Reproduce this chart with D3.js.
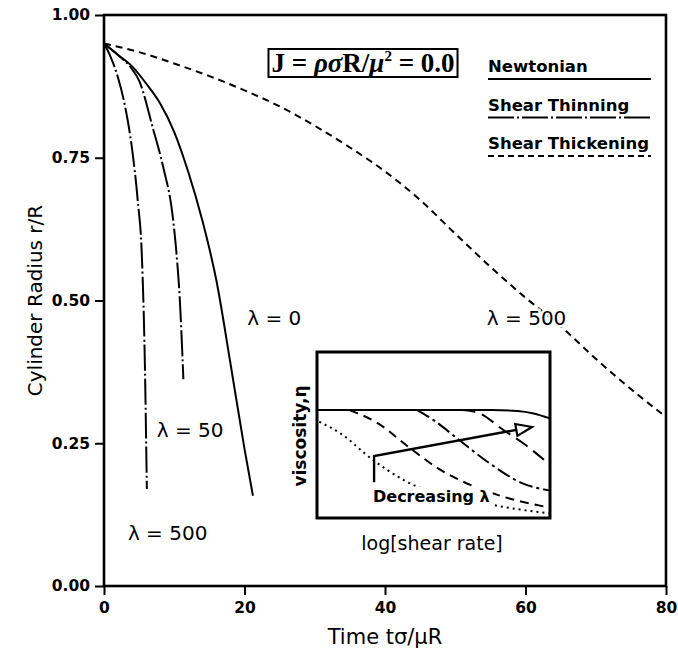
<!DOCTYPE html>
<html>
<head>
<meta charset="utf-8">
<script src="https://cdn.jsdelivr.net/npm/d3@7"></script>
<style>
body{margin:0;background:#fff;}
text{font-family:"DejaVu Sans",sans-serif;fill:#000;}
</style>
</head>
<body>
<div id="chart"></div>
<script>
// main plot data : time t*sigma/(mu*R) vs cylinder radius r/R
const xTicks = [0, 20, 40, 60, 80];
const yTicks = [0, 0.25, 0.5, 0.75, 1.0];

const timeNewt   = [0, 2, 4, 6, 8, 10, 12, 14, 16, 18, 20, 21.2];
const radiusNewt = [0.95, 0.93, 0.91, 0.88, 0.845, 0.795, 0.725, 0.64, 0.535, 0.39, 0.24, 0.158];

const timeThin50   = [0, 2, 4, 5, 7, 8.5, 9.7, 10.3, 10.8, 11.3];
const radiusThin50 = [0.95, 0.93, 0.905, 0.885, 0.80, 0.73, 0.655, 0.585, 0.50, 0.362];

const timeThin500   = [0, 1, 2, 3, 4, 4.8, 5.4, 5.8, 6.1];
const radiusThin500 = [0.95, 0.925, 0.89, 0.84, 0.765, 0.675, 0.575, 0.40, 0.17];

const timeThick   = [0, 5, 10, 15, 20, 25, 30, 35, 40, 45, 50, 55, 60, 65, 70, 75, 80];
const radiusThick = [0.95, 0.935, 0.915, 0.893, 0.868, 0.840, 0.806, 0.768, 0.726, 0.676, 0.617, 0.559, 0.505, 0.455, 0.398, 0.345, 0.296];

const legendLabels = ["Newtonian", "Shear Thinning", "Shear Thickening"];

// inset (schematic viscosity vs log shear rate), arbitrary 0..10 units
const insetTop      = [[0, 6.5], [7.5, 6.5], [8.6, 6.45], [9.3, 6.3], [10, 6.0]];
const insetLongDash = [[6.2, 6.5], [6.9, 6.35], [8.0, 5.3], [8.85, 4.5], [10, 3.2]];
const insetDashDot  = [[4.3, 6.5], [5.0, 5.9], [6.1, 4.7], [7.4, 3.3], [8.8, 2.1], [10, 1.65]];
const insetDashed   = [[1.4, 6.5], [2.6, 5.72], [4.0, 4.2], [5.3, 2.9], [6.3, 2.17], [7.75, 1.39], [10, 0.62]];
const insetDotted   = [[0.1, 5.8], [1.0, 5.1], [2.4, 3.5], [3.7, 2.3], [7.5, 0.8], [10, 0.28]];
const insetArrow    = [[2.45, 2.15], [2.45, 3.73], [9.23, 5.48]];

let width = 678, height = 651;
let margin = {top: 15, right: 12, bottom: 65, left: 104};

let svg = d3.select("#chart").append("svg")
  .attr("width", width)
  .attr("height", height);

let x = d3.scaleLinear().domain([0, 80]).range([margin.left, width - margin.right]);
let y = d3.scaleLinear().domain([0, 1]).range([height - margin.bottom, margin.top]);

// axes
let xAxis = svg.append("g")
  .attr("transform", "translate(0," + y(0) + ")")
  .call(d3.axisBottom(x).tickValues(xTicks).tickSize(9).tickPadding(7));
let yAxis = svg.append("g")
  .attr("transform", "translate(" + x(0) + ",0)")
  .call(d3.axisLeft(y).tickValues(yTicks).tickFormat(d3.format(".2f")).tickSize(9).tickPadding(5));

[xAxis, yAxis].forEach(function(a){
  a.select(".domain").remove();
  a.selectAll(".tick line").attr("stroke", "#000").attr("stroke-width", 2);
  a.selectAll(".tick text")
    .style("font-family", "DejaVu Sans")
    .style("font-weight", "bold")
    .style("font-size", "15.5px");
});

// frame
svg.append("rect")
  .attr("x", x(0)).attr("y", y(1))
  .attr("width", x(80) - x(0)).attr("height", y(0) - y(1))
  .attr("fill", "none").attr("stroke", "#000").attr("stroke-width", 2.6);

// axis titles
svg.append("text")
  .attr("x", (x(0) + x(80)) / 2).attr("y", 644)
  .attr("text-anchor", "middle")
  .style("font-size", "21px")
  .text("Time tσ/μR");

svg.append("text")
  .attr("transform", "translate(42," + y(0.5) + ") rotate(-90)")
  .attr("text-anchor", "middle")
  .style("font-size", "20px")
  .text("Cylinder Radius r/R");

// curves
let line = d3.line()
  .x(d => x(d[0]))
  .y(d => y(d[1]))
  .curve(d3.curveMonotoneX);

let dashThin = "26,3,2,3";
let dashThick = "7,5";

let curves = [
  {t: timeNewt, r: radiusNewt, dash: null},
  {t: timeThin50, r: radiusThin50, dash: dashThin},
  {t: timeThin500, r: radiusThin500, dash: dashThin},
  {t: timeThick, r: radiusThick, dash: dashThick}
];

curves.forEach(function(c){
  let pts = c.t.map((t, i) => [t, c.r[i]]);
  svg.append("path")
    .attr("d", line(pts))
    .attr("fill", "none")
    .attr("stroke", "#000")
    .attr("stroke-width", 2)
    .attr("stroke-dasharray", c.dash);
});

// lambda labels (white halo so the curves break around them)
let lamLabels = [
  {text: "λ = 0", t: 20.4, r: 0.457},
  {text: "λ = 50", t: 7.5, r: 0.261},
  {text: "λ = 500", t: 3.4, r: 0.08},
  {text: "λ = 500", t: 54.5, r: 0.457}
];
lamLabels.forEach(function(l){
  svg.append("text")
    .attr("x", x(l.t)).attr("y", y(l.r))
    .style("font-size", "20px")
    .style("stroke", "#fff")
    .style("stroke-width", 5)
    .style("paint-order", "stroke")
    .text(l.text);
});

// title box J = rho sigma R / mu^2
let title = svg.append("text")
  .attr("x", 363).attr("y", 72)
  .attr("text-anchor", "middle")
  .style("font-family", "Liberation Serif")
  .style("font-weight", "bold")
  .style("font-size", "27px");
title.append("tspan").text("J = ");
title.append("tspan").style("font-style", "italic").text("ρσ");
title.append("tspan").text("R/");
title.append("tspan").style("font-style", "italic").text("μ");
title.append("tspan").attr("dy", -11).style("font-size", "15px").text("2");
title.append("tspan").attr("dy", 11).text(" = 0.0");

let tb = title.node().getBBox();
svg.append("rect")
  .attr("x", tb.x - 3).attr("y", 49)
  .attr("width", tb.width + 6).attr("height", 28)
  .attr("fill", "none").attr("stroke", "#000").attr("stroke-width", 2);

// legend
legendLabels.forEach(function(label, i){
  let by = 72 + i * 38.5;
  svg.append("text")
    .attr("x", 488).attr("y", by)
    .style("font-weight", "bold")
    .style("font-size", "16.5px")
    .text(label);
  svg.append("line")
    .attr("x1", 488).attr("x2", 651)
    .attr("y1", by + 7).attr("y2", by + 7)
    .attr("stroke", "#000").attr("stroke-width", 2)
    .attr("stroke-dasharray", [null, dashThin, "6,4"][i]);
});

// ---- inset ----
let ix = d3.scaleLinear().domain([0, 10]).range([317, 550]);
let iy = d3.scaleLinear().domain([0, 10]).range([518, 352]);
let iline = d3.line()
  .x(d => ix(d[0]))
  .y(d => iy(d[1]))
  .curve(d3.curveMonotoneX);

let inset = svg.append("g");
inset.append("rect")
  .attr("x", ix(0)).attr("y", iy(10))
  .attr("width", ix(10) - ix(0)).attr("height", iy(0) - iy(10))
  .attr("fill", "#fff").attr("stroke", "#000").attr("stroke-width", 3);

let insetCurves = [
  {pts: insetTop, dash: null},
  {pts: insetLongDash, dash: "14,7"},
  {pts: insetDashDot, dash: "14,4,3,4"},
  {pts: insetDashed, dash: "9,6"},
  {pts: insetDotted, dash: "2,4"}
];
insetCurves.forEach(function(c){
  inset.append("path")
    .attr("d", iline(c.pts))
    .attr("fill", "none")
    .attr("stroke", "#000")
    .attr("stroke-width", 2)
    .attr("stroke-dasharray", c.dash);
});

let dec = inset.append("text")
  .attr("x", 373).attr("y", 502)
  .style("font-weight", "bold")
  .style("font-size", "16px")
  .text("Decreasing λ");
let db = dec.node().getBBox();
inset.insert("rect", "text")
  .attr("x", db.x - 3).attr("y", db.y)
  .attr("width", db.width + 6).attr("height", db.height)
  .attr("fill", "#fff");

// arrow
let a0 = insetArrow[0], a1 = insetArrow[1], a2 = insetArrow[2];
let ax1 = ix(a1[0]), ay1 = iy(a1[1]), ax2 = ix(a2[0]), ay2 = iy(a2[1]);
let ang = Math.atan2(ay2 - ay1, ax2 - ax1);
let headLen = 16, headW = 6;
let bx = ax2 - headLen * Math.cos(ang), by = ay2 - headLen * Math.sin(ang);
inset.append("path")
  .attr("d", "M" + ix(a0[0]) + "," + iy(a0[1]) + "L" + ax1 + "," + ay1 + "L" + bx + "," + by)
  .attr("fill", "none").attr("stroke", "#000").attr("stroke-width", 2.4);
inset.append("path")
  .attr("d", "M" + ax2 + "," + ay2 +
             "L" + (bx + headW * Math.sin(ang)) + "," + (by - headW * Math.cos(ang)) +
             "L" + (bx - headW * Math.sin(ang)) + "," + (by + headW * Math.cos(ang)) + "Z")
  .attr("fill", "#fff").attr("stroke", "#000").attr("stroke-width", 2.2);

// inset axis labels
svg.append("text")
  .attr("transform", "translate(306,436) rotate(-90)")
  .attr("text-anchor", "middle")
  .style("font-weight", "bold")
  .style("font-size", "17px")
  .text("viscosity,η");

svg.append("text")
  .attr("x", 432).attr("y", 550)
  .attr("text-anchor", "middle")
  .style("font-size", "19px")
  .text("log[shear rate]");
</script>
</body>
</html>
